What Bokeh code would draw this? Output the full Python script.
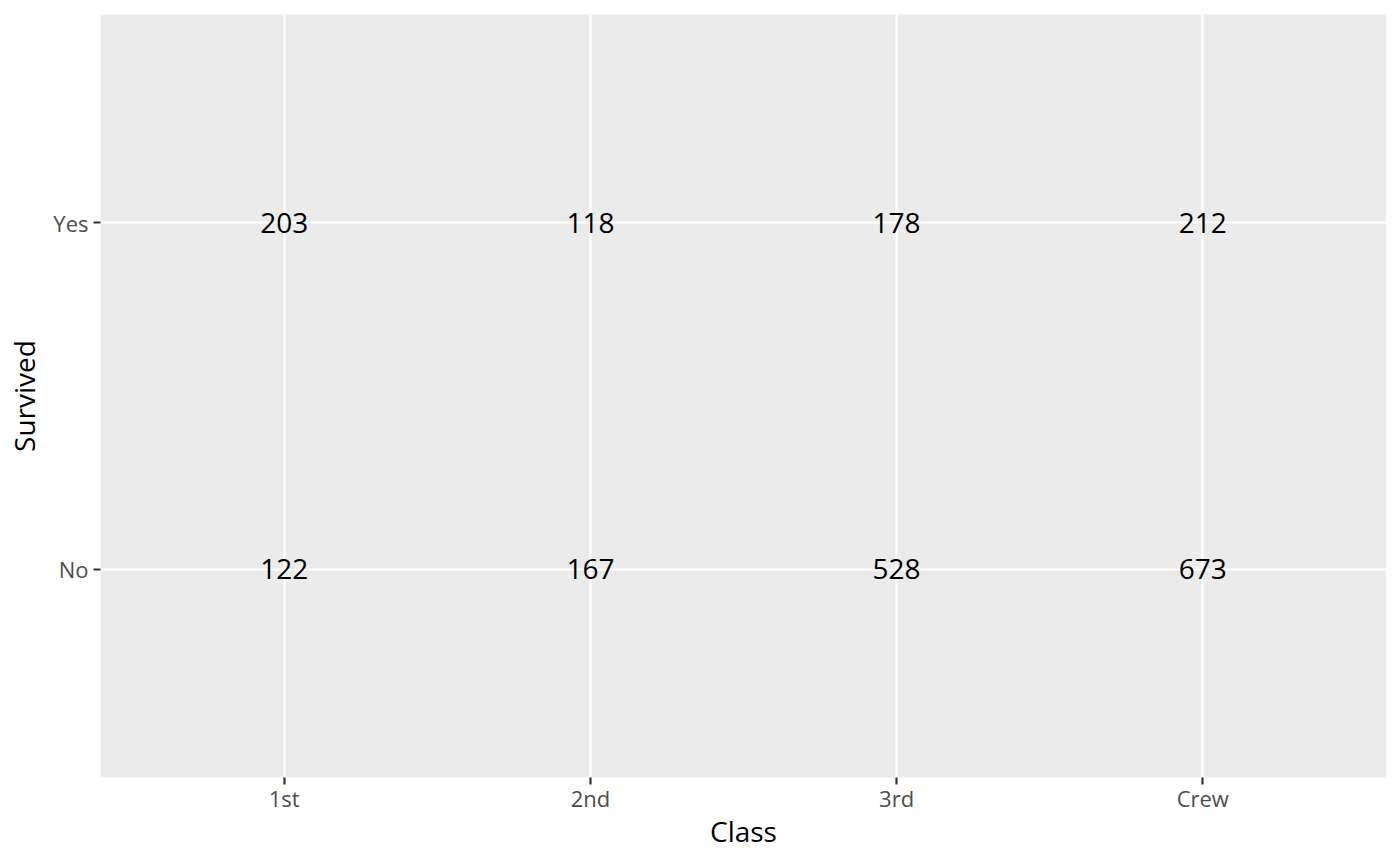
from bokeh.plotting import figure
from bokeh.models import ColumnDataSource, FactorRange
from bokeh.core.properties import value
from bokeh.embed import file_html
from bokeh.resources import INLINE

classes = ['1st', '2nd', '3rd', 'Crew']
survived_levels = ['No', 'Yes']
count_no = [122, 167, 528, 673]
count_yes = [203, 118, 178, 212]

FONT = "Open Sans"

xs, ys, labels = [], [], []
for level, counts in zip(survived_levels, [count_no, count_yes]):
    for cls, n in zip(classes, counts):
        xs.append(cls)
        ys.append(level)
        labels.append(str(n))
source = ColumnDataSource(data={'x': xs, 'y': ys, 'label': labels})

p = figure(frame_width=1286, frame_height=763,
           x_range=FactorRange(factors=classes, range_padding=0.1, range_padding_units="absolute"),
           y_range=FactorRange(factors=survived_levels, range_padding=0.1, range_padding_units="absolute"),
           x_axis_label='Class', y_axis_label='Survived',
           output_backend="svg", toolbar_location=None,
           min_border_left=100, min_border_right=0, min_border_top=14, min_border_bottom=60)

p.text(x='x', y='y', text='label', source=source,
       text_font=value(FONT), text_font_size='28px', text_color='black',
       text_align='center', text_baseline='middle')

p.background_fill_color = '#EBEBEB'
p.border_fill_color = 'white'
p.outline_line_color = None

p.grid.grid_line_color = 'white'
p.grid.grid_line_width = 2.2

for ax in [p.xaxis, p.yaxis]:
    ax.axis_line_color = None
    ax.major_tick_line_color = '#333333'
    ax.major_tick_line_width = 2.2
    ax.major_tick_out = 7
    ax.major_tick_in = 0
    ax.minor_tick_line_color = None
    ax.major_label_text_font = FONT
    ax.major_label_text_font_size = '22px'
    ax.major_label_text_color = '#4D4D4D'
    ax.axis_label_text_font = FONT
    ax.axis_label_text_font_size = '28px'
    ax.axis_label_text_font_style = 'normal'
    ax.axis_label_text_color = 'black'

p.xaxis.major_label_standoff = -2
p.xaxis.axis_label_standoff = -4
p.yaxis.major_label_standoff = 5
p.yaxis.axis_label_standoff = 7

open("out.html", "w").write(file_html(p, INLINE))
